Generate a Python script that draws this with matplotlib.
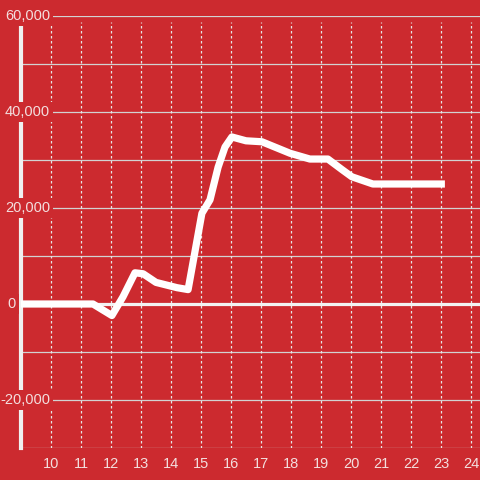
import matplotlib
matplotlib.use("Agg")
import matplotlib.pyplot as plt

# data
x_vals = [9.0, 11.4, 12.03, 12.4, 12.8, 13.07, 13.5, 14.2, 14.57, 15.03, 15.3,
          15.57, 15.8, 16.03, 16.5, 17.03, 17.97, 18.63, 19.23, 19.7, 20.03,
          20.73, 23.13]
y_vals = [0, 0, -2400, 1500, 6500, 6300, 4500, 3400, 3000, 18900, 21700,
          28500, 32700, 34800, 34000, 33800, 31400, 30200, 30200, 28000, 26500,
          25000, 25000]
x_ticks = list(range(10, 25))
y_grid = [-30000, -20000, -10000, 10000, 20000, 30000, 40000, 50000, 60000]
y_labels = {60000: "60,000", 40000: "40,000", 20000: "20,000", 0: "0", -20000: "-20,000"}

BG = "#cc2a2f"
TXT = "#f3dede"
GRID = "#d2d2d2"

fig = plt.figure(figsize=(4.8, 4.8), dpi=100, facecolor=BG)
ax = fig.add_axes([21 / 480, 32 / 480, 459 / 480, 432 / 480])
ax.set_facecolor(BG)
ax.set_xlim(9.0, 24.3)
ax.set_ylim(-30000, 60000)
for s in ax.spines.values():
    s.set_visible(False)
ax.set_xticks([])
ax.set_yticks([])

# horizontal grid
for g in y_grid:
    ax.axhline(g, color=GRID, lw=0.9, zorder=1)
# vertical dotted grid
for t in x_ticks:
    ax.axvline(t, ymin=0, ymax=0.985, color="#e6e6e6", lw=0.9, ls=(0, (2, 2)), zorder=1)
# zero line
ax.axhline(0, color="#f2f2f2", lw=2.3, zorder=2)
# left axis line
ax.axvline(9.0, color="#f0f0f0", lw=3.0, zorder=2, clip_on=False)

# data line
ax.plot(x_vals, y_vals, color="white", lw=5.2, solid_joinstyle="round",
        solid_capstyle="butt", zorder=5)

# y labels
for v, lab in y_labels.items():
    xpos = 50 / 480 if v != 0 else 16 / 480
    fig.text(xpos, (480 - (304 - v / 20000 * 96)) / 480, lab, ha="right", va="center",
             color=TXT, fontsize=10.5, family="Liberation Sans",
             bbox=dict(facecolor=BG, edgecolor="none", pad=2.0), zorder=10)

# x labels
for t in x_ticks:
    ax.text(t, -30000, str(t), transform=ax.transData, ha="center", va="top",
            color=TXT, fontsize=10.5, family="Liberation Sans", clip_on=False,
            position=(t, -30000 - 1800))

fig.savefig("out.png", dpi=100, facecolor=BG)
